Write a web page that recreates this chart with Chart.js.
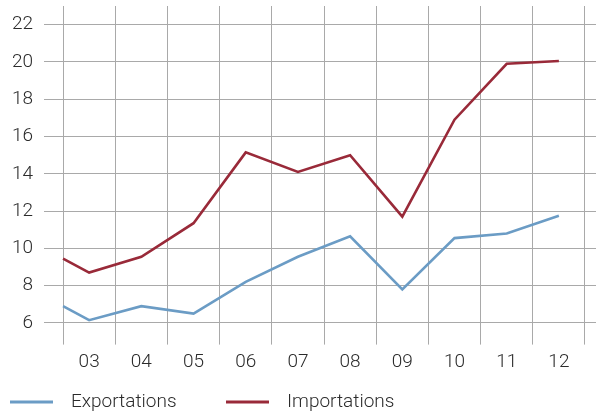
<!DOCTYPE html>
<html>
<head>
<meta charset="utf-8">
<script src="https://cdn.jsdelivr.net/npm/chart.js@4/dist/chart.umd.min.js"></script>
<style>
  html, body { margin: 0; padding: 0; background: #fff; }
  #wrap { position: relative; width: 596px; height: 414px; }
</style>
</head>
<body>
<div id="wrap"><canvas id="chart" width="596" height="414"></canvas></div>
<script>
// années (03 = 2003 ...), le premier point est en début de 2003
var years = [2.5, 3, 4, 5, 6, 7, 8, 9, 10, 11, 12];
var exportations = [6.9, 6.15, 6.9, 6.5, 8.2, 9.55, 10.65, 7.8, 10.55, 10.8, 11.75];
var importations = [9.45, 8.7, 9.55, 11.35, 15.15, 14.1, 15.0, 11.7, 16.9, 19.9, 20.05];
var yTicks = [6, 8, 10, 12, 14, 16, 18, 20, 22];
var xTicks = [2.5, 3, 3.5, 4, 4.5, 5, 5.5, 6, 6.5, 7, 7.5, 8, 8.5, 9, 9.5, 10, 10.5, 11, 11.5, 12, 12.5];

var BLUE = '#6b9cc5';
var RED = '#992a39';
var GRID = '#a9a9a9';
var TEXT = '#2b2b2b';
var FONT = 'Roboto, "Liberation Sans", sans-serif';

function toPoints(values) {
  return values.map(function(v, i) { return { x: years[i], y: v }; });
}

// légende dessinée sous le graphique
var bottomLegend = {
  id: 'bottomLegend',
  afterDraw: function(chart) {
    var ctx = chart.ctx;
    var items = [
      { label: 'Exportations', color: BLUE, x: 10 },
      { label: 'Importations', color: RED, x: 226 }
    ];
    ctx.save();
    ctx.font = '300 19px ' + FONT;
    ctx.textBaseline = 'middle';
    items.forEach(function(it) {
      ctx.fillStyle = it.color;
      ctx.fillRect(it.x, 400.5, 43, 3);
      ctx.fillStyle = TEXT;
      ctx.fillText(it.label, it.x + 61, 402);
    });
    ctx.restore();
  }
};

new Chart(document.getElementById('chart'), {
  type: 'line',
  data: {
    datasets: [
      {
        label: 'Exportations',
        data: toPoints(exportations),
        borderColor: BLUE,
        borderWidth: 2.6,
        pointRadius: 0,
        tension: 0
      },
      {
        label: 'Importations',
        data: toPoints(importations),
        borderColor: RED,
        borderWidth: 2.6,
        pointRadius: 0,
        tension: 0
      }
    ]
  },
  options: {
    responsive: false,
    animation: false,
    layout: { padding: { top: 6, right: 0, left: 0, bottom: 0 } },
    plugins: {
      legend: { display: false },
      tooltip: { enabled: false }
    },
    scales: {
      x: {
        type: 'linear',
        min: 2.135,
        max: 12.711,
        afterBuildTicks: function(scale) {
          scale.ticks = xTicks.map(function(v) { return { value: v }; });
        },
        afterFit: function(scale) {
          scale.height = 72.4;
          scale.paddingLeft = 0;
          scale.paddingRight = 0;
        },
        border: { display: false },
        grid: {
          color: function(c) {
            return (c.tick && c.tick.value % 1 !== 0) ? GRID : 'rgba(0,0,0,0)';
          },
          lineWidth: 1,
          drawTicks: true,
          tickLength: 3
        },
        ticks: {
          autoSkip: false,
          maxRotation: 0,
          padding: 6,
          color: TEXT,
          font: { family: FONT, size: 19, weight: '300' },
          callback: function(v) {
            if (v % 1 !== 0) return '';
            return (v < 10 ? '0' : '') + v;
          }
        }
      },
      y: {
        min: 5,
        max: 23,
        afterBuildTicks: function(scale) {
          scale.ticks = yTicks.map(function(v) { return { value: v }; });
        },
        afterFit: function(scale) {
          scale.width = 44;
          scale.paddingTop = 0;
          scale.paddingBottom = 0;
        },
        border: { display: false },
        grid: {
          color: GRID,
          lineWidth: 1,
          drawTicks: false
        },
        ticks: {
          padding: 11,
          color: TEXT,
          font: { family: FONT, size: 19, weight: '300' }
        }
      }
    }
  },
  plugins: [bottomLegend]
});
</script>
</body>
</html>
